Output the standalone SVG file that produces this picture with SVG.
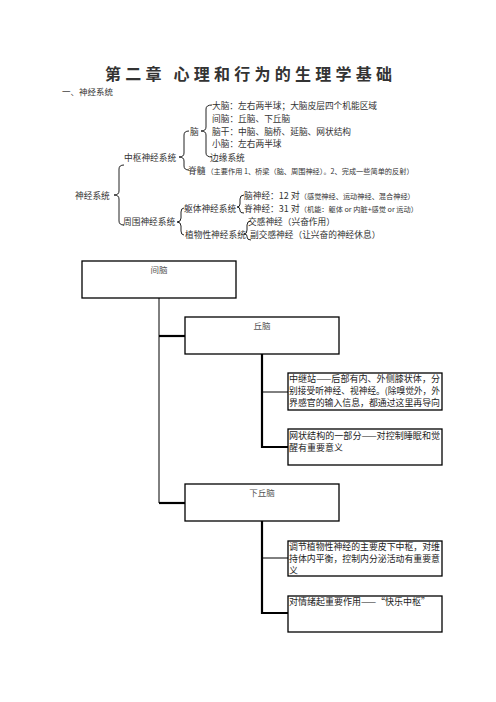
<svg xmlns="http://www.w3.org/2000/svg" width="496" height="702" viewBox="0 0 496 702">
<style>
text{font-family:"Noto Sans CJK SC","Noto Sans CJK JP",sans-serif;fill:#333}
.t{font-size:8.7px}
.s{font-size:7.2px}
.b{font-size:9px;fill:#222}
.h{font-size:8.5px;fill:#555}
.br{fill:none;stroke:#222;stroke-width:1}
.box{fill:#fff;stroke:#000;stroke-width:1.3}
.c1{stroke:#000;stroke-width:1;fill:none}
.c2{stroke:#000;stroke-width:2.2;fill:none}
</style>
<rect width="496" height="702" fill="#fff"/>
<text x="105" y="80" font-size="16" font-weight="bold" fill="#111" textLength="287" lengthAdjust="spacing">第二章 心理和行为的生理学基础</text>
<text x="62" y="95" font-size="8.5" fill="#666">一、神经系统</text>

<g id="tree">
<text class="t" x="212" y="109" textLength="165" lengthAdjust="spacingAndGlyphs">大脑：左右两半球；大脑皮层四个机能区域</text>
<text class="t" x="212" y="122">间脑：丘脑、下丘脑</text>
<text class="t" x="212" y="135">脑干：中脑、脑桥、延脑、网状结构</text>
<text class="t" x="212" y="147">小脑：左右两半球</text>
<text class="t" x="210" y="161">边缘系统</text>
<text class="t" x="190" y="135">脑</text>
<text class="t" x="124" y="161">中枢神经系统</text>
<text x="188" y="174"><tspan class="t">脊髓</tspan><tspan class="s" dx="1">（主要作用 1、桥梁（脑、周围神经）。2、完成一些简单的反射）</tspan></text>
<text class="t" x="75" y="199">神经系统</text>
<text x="244" y="199"><tspan class="t">脑神经：</tspan><tspan font-size="9">12 对</tspan><tspan class="s">（感觉神经、运动神经、混合神经）</tspan></text>
<text x="244" y="212"><tspan class="t">脊神经：</tspan><tspan font-size="9">31 对</tspan><tspan class="s">（机能：躯体 or 内脏+感觉 or 运动）</tspan></text>
<text class="t" x="184" y="212">躯体神经系统</text>
<text class="t" x="248" y="225">交感神经（兴奋作用）</text>
<text class="t" x="123" y="225">周围神经系统</text>
<text class="t" x="185" y="238">植物性神经系统</text>
<text class="t" x="250" y="238">副交感神经（让兴奋的神经休息）</text>
<path class="br" d="M212,105 Q206,105 206,109 L206,127 Q206,131 201,131 Q206,131 206,135 L206,153 Q206,157 212,157"/>
<path class="br" d="M189,131 Q184,131 184,135 L184,153 Q184,157 179,157 Q184,157 184,161 L184,166 Q184,170 189,170"/>
<path class="br" d="M124,165 Q119,165 119,169 L119,191 Q119,195 114,195 Q119,195 119,199 L119,221 Q119,225 124,225"/>
<path class="br" d="M244,195 Q240,195 240,199 L240,204 Q240,207 237,207 Q240,207 240,210 L240,211 Q240,213 244,213"/>
<path class="br" d="M184,208 Q181,208 181,212 L181,218 Q181,222 177,222 Q181,222 181,226 L181,231 Q181,235 184,235"/>
<path class="br" d="M251,221 Q247,221 247,225 L247,230 Q247,234 244,234 Q247,234 247,236 L247,237 Q247,240 251,240"/>
</g>

<g id="connectors">
<path class="c1" d="M159,298 V503"/>
<path class="c2" d="M159,336 H185"/>
<path class="c2" d="M159,503 H185"/>
<path class="c2" d="M262,354 V447 H288"/>
<path class="c1" d="M262,392 H288"/>
<path class="c2" d="M262,521 V613 H288"/>
<path class="c1" d="M262,558 H288"/>
</g>

<g id="n-jiannao">
<rect class="box" x="82" y="261" width="154" height="37"/>
<text class="h" x="159" y="273" text-anchor="middle">间脑</text>
</g>
<g id="n-qiunao">
<rect class="box" x="185" y="317" width="154" height="37"/>
<text class="h" x="262" y="329" text-anchor="middle">丘脑</text>
</g>
<g id="n-zhongjizhan">
<rect class="box" x="288" y="373" width="154" height="37"/>
<text class="b" x="289" y="382" textLength="151" lengthAdjust="spacingAndGlyphs">中继站——后部有内、外侧膝状体，分</text>
<text class="b" x="289" y="394" textLength="151" lengthAdjust="spacingAndGlyphs">别接受听神经、视神经。(除嗅觉外，外</text>
<text class="b" x="289" y="406" textLength="151" lengthAdjust="spacingAndGlyphs">界感官的输入信息，都通过这里再导向</text>
</g>
<g id="n-wangzhuang">
<rect class="box" x="288" y="429" width="154" height="36"/>
<text class="b" x="289" y="439" textLength="151" lengthAdjust="spacingAndGlyphs">网状结构的一部分——对控制睡眠和觉</text>
<text class="b" x="289" y="451">醒有重要意义</text>
</g>
<g id="n-xiaqiunao">
<rect class="box" x="185" y="484" width="154" height="37"/>
<text class="h" x="262" y="496" text-anchor="middle">下丘脑</text>
</g>
<g id="n-tiaojie">
<rect class="box" x="288" y="541" width="154" height="35"/>
<text class="b" x="289" y="550" textLength="151" lengthAdjust="spacingAndGlyphs">调节植物性神经的主要皮下中枢，对维</text>
<text class="b" x="289" y="562" textLength="151" lengthAdjust="spacingAndGlyphs">持体内平衡，控制内分泌活动有重要意</text>
<text class="b" x="289" y="574">义</text>
</g>
<g id="n-qingxu">
<rect class="box" x="288" y="596" width="154" height="36"/>
<text class="b" x="289" y="605">对情绪起重要作用——“快乐中枢”</text>
</g>
</svg>
